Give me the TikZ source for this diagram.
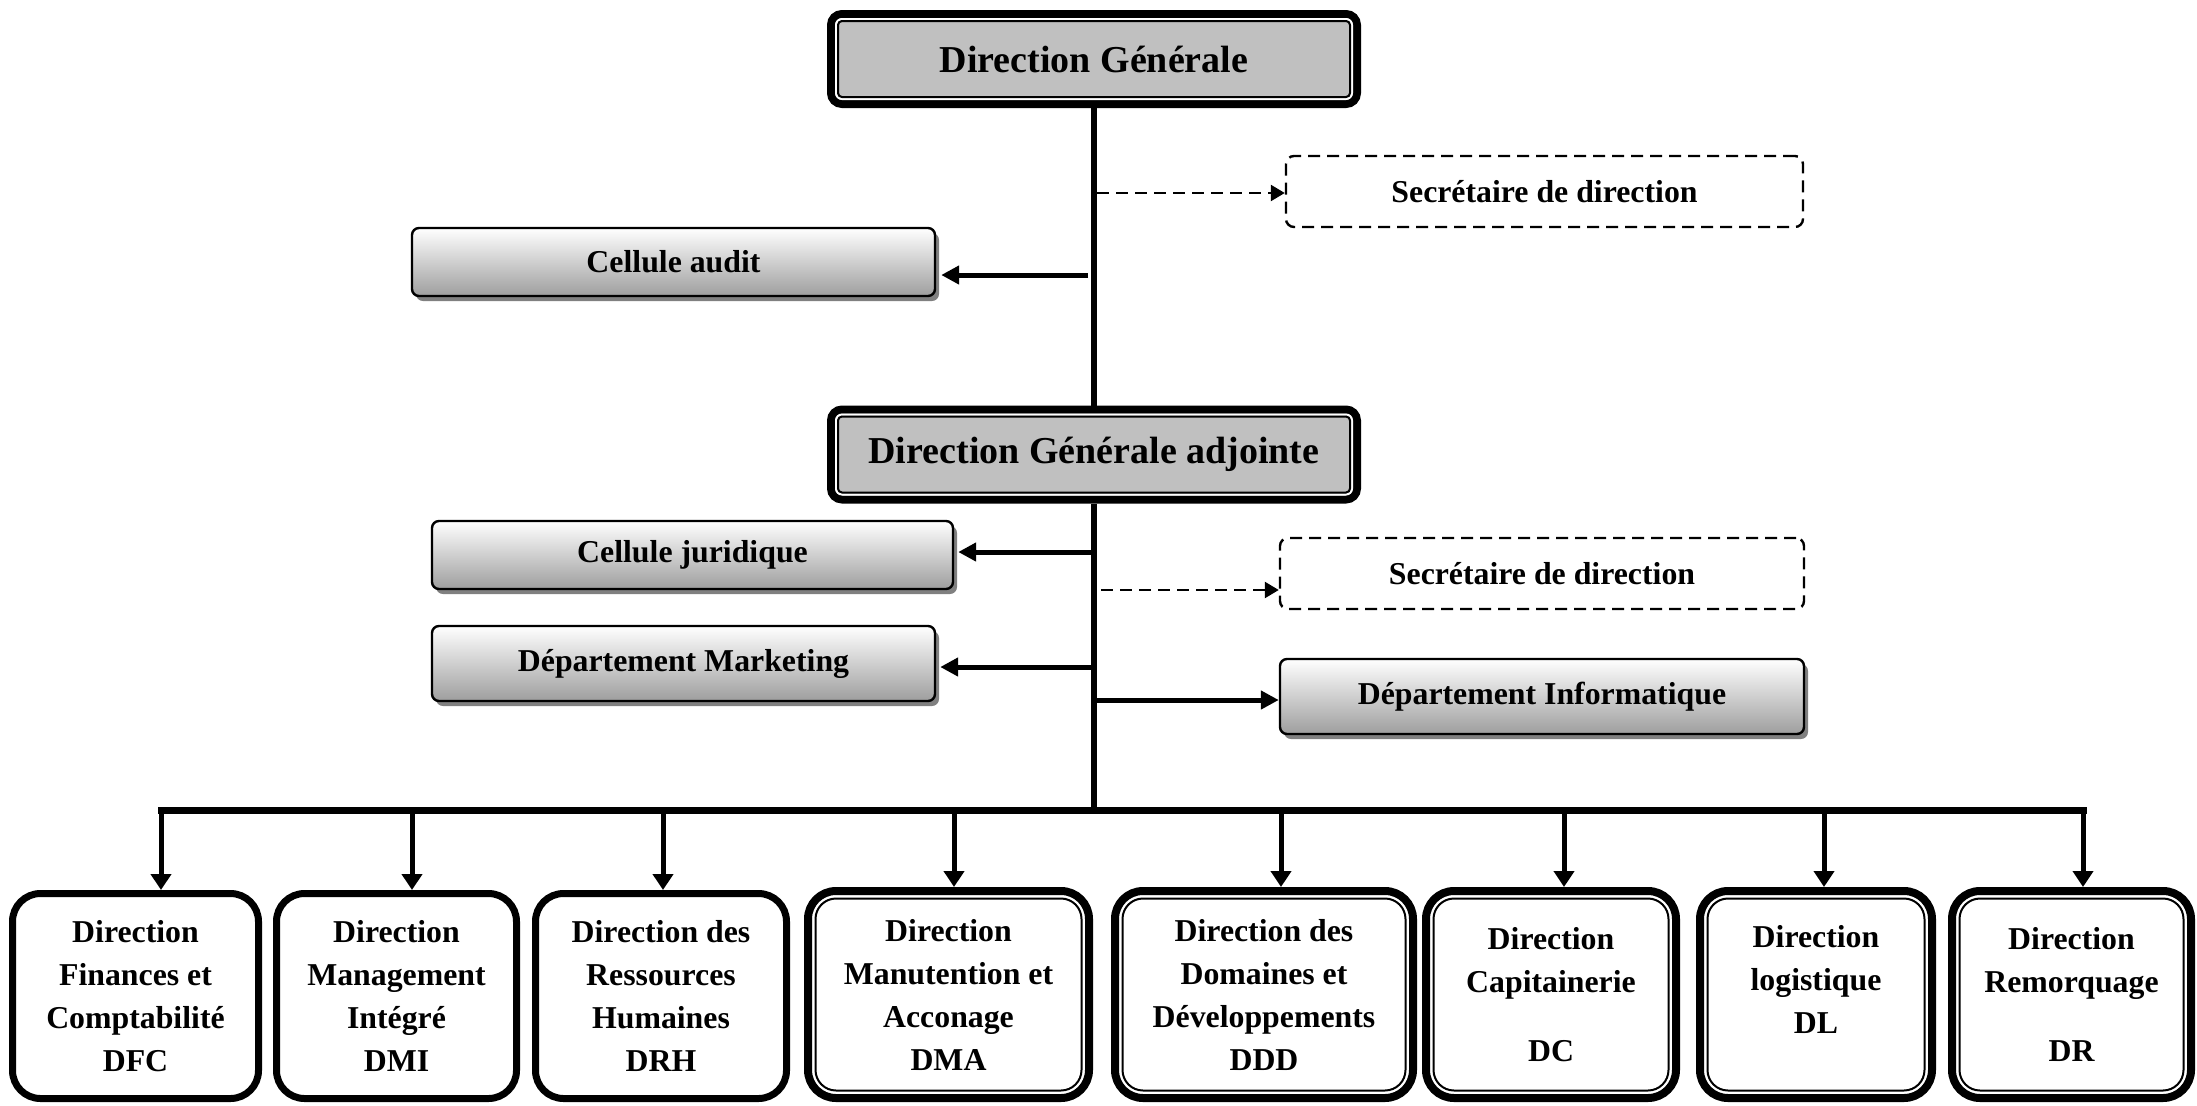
\documentclass[tikz,border=0pt]{standalone}
\usepackage{fontspec}
\setmainfont{Liberation Serif}
\usetikzlibrary{arrows.meta,shadows}
\definecolor{headgray}{HTML}{C0C0C0}

\begin{document}
\begin{tikzpicture}[x=0.5pt,y=-0.5pt,
  headbox/.style={draw,line width=4pt,rounded corners=5.5pt,fill=headgray,
    minimum width=263pt,minimum height=45pt,inner sep=0pt,
    font=\fontsize{19}{23}\selectfont\bfseries},
  sidebox/.style={draw,line width=1.2pt,rounded corners=3.5pt,
    top color=white,bottom color=black!38,
    drop shadow={shadow xshift=2pt,shadow yshift=-2.5pt,fill=black!50,opacity=1},
    inner sep=0pt,font=\fontsize{15.9}{19}\selectfont\bfseries},
  dashbox/.style={draw,line width=1.2pt,dash pattern=on 6pt off 3.5pt,
    rounded corners=4pt,fill=white,inner sep=0pt,
    font=\fontsize{15.9}{19}\selectfont\bfseries},
  unitbox/.style={draw,line width=3.5pt,rounded corners=14pt,fill=white,
    align=center,inner sep=0pt,minimum height=102.5pt,
    execute at begin node={\rule{0pt}{14.5pt}},
    font=\fontsize{15.9}{21.5}\selectfont\bfseries},
  dunitbox/.style={unitbox,line width=4pt,minimum height=103.5pt},
  trunk/.style={line width=3pt},
  bus/.style={line width=3.5pt,line cap=rect},
  sidearrow/.style={line width=2.5pt,-{Triangle[length=9pt,width=9pt]}},
  dasharrow/.style={line width=1.2pt,dash pattern=on 6pt off 3.5pt,
    -{Triangle[length=7pt,width=8pt]}},
  downarrow/.style={line width=2.5pt,-{Triangle[length=8pt,width=10pt]}},
]
\useasboundingbox (0,0) rectangle (2197,1105);

% top of the hierarchy
\node[headbox] (dg)  at (1094,59)    {Direction Générale};
\node[headbox] (dga) at (1094,454.5) {Direction Générale adjointe};
\foreach \n in {dg,dga}{
  \draw[white,line width=1pt,rounded corners=3pt]
    ([shift={(4.5pt,4.5pt)}]\n.south west) rectangle ([shift={(-4.5pt,-4.5pt)}]\n.north east);
  \draw[line width=1pt,rounded corners=2pt]
    ([shift={(5.5pt,5.5pt)}]\n.south west) rectangle ([shift={(-5.5pt,-5.5pt)}]\n.north east);
}

% staff units
\node[sidebox,minimum width=261.5pt,minimum height=34pt] (ca) at (673.5,262) {Cellule audit};
\node[dashbox,minimum width=258.5pt,minimum height=35.5pt] (sd1) at (1544.5,191.5) {Secrétaire de direction};
\node[sidebox,minimum width=260.5pt,minimum height=34pt] (cj) at (692.5,555) {Cellule juridique};
\node[dashbox,minimum width=262pt,minimum height=35.5pt] (sd2) at (1542,573.5) {Secrétaire de direction};
\node[sidebox,minimum width=251.5pt,minimum height=37.5pt] (dm) at (683.5,663.5) {Département Marketing};
\node[sidebox,minimum width=262pt,minimum height=37.5pt] (di) at (1542,696.5) {Département Informatique};

% operational directions
\node[unitbox,minimum width=123pt]    (dfc) at (135.5,996)  {Direction\\Finances et\\Comptabilité\\DFC};
\node[unitbox,minimum width=120pt]    (dmi) at (396.5,996)  {Direction\\Management\\Intégré\\DMI};
\node[unitbox,minimum width=125.5pt]  (drh) at (661,996)    {Direction des\\Ressources\\Humaines\\DRH};
\node[dunitbox,minimum width=140.5pt] (dma) at (948.5,994.5){Direction\\Manutention et\\Acconage\\DMA};
\node[dunitbox,minimum width=149pt]   (ddd) at (1264,994.5) {Direction des\\Domaines et\\Développements\\DDD};
\node[dunitbox,minimum width=125pt]   (dc)  at (1551,994.5) {Direction\\Capitainerie\\[13pt]DC};
\node[dunitbox,minimum width=116pt]   (dl)  at (1816,994.5) {Direction\\logistique\\DL\\[-6pt]\mbox{}};
\node[dunitbox,minimum width=119.5pt] (dr)  at (2071.5,994.5){Direction\\Remorquage\\[13pt]DR};
\foreach \n in {dma,ddd,dc,dl,dr}
  \draw[line width=1pt,rounded corners=10.25pt]
    ([shift={(5.75pt,5.75pt)}]\n.south west) rectangle ([shift={(-5.75pt,-5.75pt)}]\n.north east);

% main line
\coordinate (hub) at (1094,810);
\draw[trunk] (dg.south) -- (dga.north);
\draw[trunk] (dga.south) -- (hub);

% branches to the staff units
\coordinate (t1) at (1097,193);
\coordinate (t2) at (1088,275);
\coordinate (t3) at (1092,552);
\coordinate (t4) at (1101,590);
\coordinate (t5) at (1094,667);
\coordinate (t6) at (1097,700);
\draw[dasharrow] (t1) -- (t1 -| sd1.west);
\draw[sidearrow,shorten >=2.5pt] (t2) -- (t2 -| ca.east);
\draw[sidearrow,shorten >=2pt] (t3) -- (t3 -| cj.east);
\draw[dasharrow] (t4) -- (t4 -| sd2.west);
\draw[sidearrow,shorten >=2pt] (t5) -- (t5 -| dm.east);
\draw[sidearrow] (t6) -- (t6 -| di.west);

% distribution bar
\coordinate (b1) at (161,810);
\coordinate (b2) at (412,810);
\coordinate (b3) at (663,810);
\coordinate (b4) at (954,810);
\coordinate (b5) at (1281,810);
\coordinate (b6) at (1564,810);
\coordinate (b7) at (1824,810);
\coordinate (b8) at (2083,810);
\draw[bus] (b1) -- (b8);
\foreach \b/\n in {b1/dfc,b2/dmi,b3/drh,b4/dma,b5/ddd,b6/dc,b7/dl,b8/dr}
  \draw[downarrow] (\b) -- (\b |- \n.north);
\end{tikzpicture}
\end{document}
